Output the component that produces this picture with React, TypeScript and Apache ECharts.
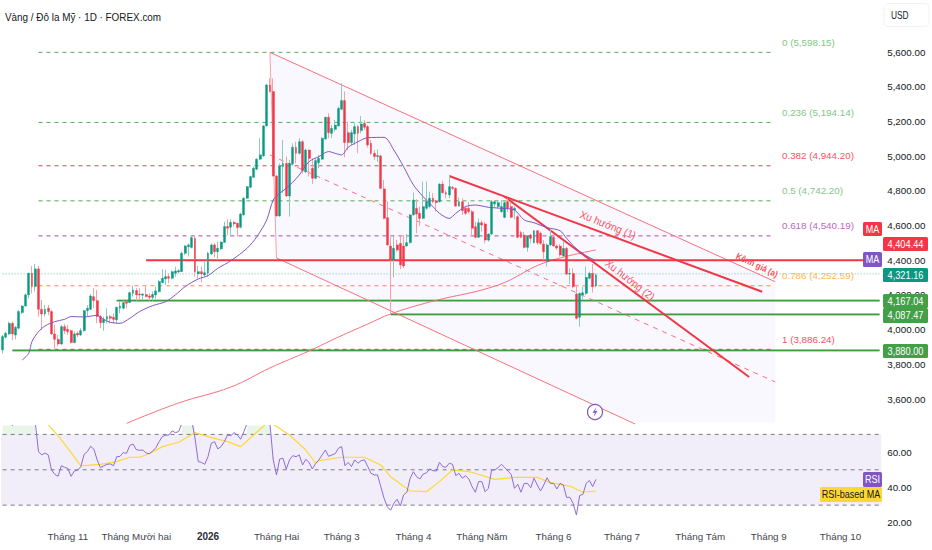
import React, { useEffect, useRef } from "react";
import * as echarts from "echarts";

const FONT = '"Liberation Sans", Arial, sans-serif';

const titleText = "Vàng / Đô la Mỹ · 1D · FOREX.com";
const barCount = 270;
const monthBars = [20, 41, 63, 84, 104, 126, 147, 169, 190, 214, 235, 257];
const monthLabels = ["Tháng 11", "Tháng Mười hai", "2026", "Tháng Hai", "Tháng 3", "Tháng 4", "Tháng Năm", "Tháng 6", "Tháng 7", "Tháng Tám", "Tháng 9", "Tháng 10"];
const categories = Array.from({ length: barCount }, (_, i) => {
  const k = monthBars.indexOf(i);
  return k >= 0 ? monthLabels[k] : "";
});

// [open, close, low, high]
const candles = [
  [3883,3960,3863,3969],[3956,3979,3950,3988],[3975,4036,3969,4046],[4036,3975,3940,4046],[3969,4013,3944,4021],
  [4008,4104,4002,4113],[4098,4136,4090,4142],[4136,4200,4132,4209],[4200,4325,4180,4328],[4325,4248,4209,4367],
  [4248,4350,4219,4378],[4350,4117,4075,4367],[4117,4090,3998,4171],[4090,4117,4075,4142],[4123,4104,4084,4142],
  [4104,3975,3969,4113],[3975,3944,3883,4027],[3944,3917,3906,3969],[3917,4017,3912,4027],[4017,3994,3975,4033],
  [4002,3988,3969,4027],[3994,3925,3921,4002],[3925,3975,3921,3988],[3979,3969,3956,3988],[3969,3994,3963,4008],
  [3994,4109,3988,4113],[4109,4123,4075,4142],[4117,4194,4113,4205],[4190,4167,4123,4238],[4167,4075,4036,4228],
  [4075,4040,4008,4084],[4040,4059,3994,4075],[4059,4075,4036,4123],[4075,4065,4036,4084],[4071,4059,4036,4094],
  [4056,4129,4036,4132],[4123,4136,4094,4161],[4123,4156,4117,4167],[4161,4152,4123,4167],[4156,4213,4152,4219],
  [4209,4228,4190,4255],[4225,4200,4167,4238],[4205,4200,4175,4238],[4198,4205,4171,4209],[4202,4190,4186,4255],
  [4194,4186,4167,4209],[4186,4203,4167,4219],[4200,4223,4178,4248],[4219,4277,4213,4286],[4271,4296,4267,4348],
  [4292,4305,4257,4344],[4305,4296,4267,4325],[4296,4334,4290,4340],[4325,4338,4305,4363],[4332,4340,4325,4348],
  [4334,4440,4332,4449],[4440,4482,4430,4488],[4478,4488,4421,4497],[4474,4530,4468,4545],[4526,4334,4305,4545],
  [4321,4334,4296,4367],[4334,4321,4271,4363],[4315,4328,4305,4392],[4325,4440,4305,4448],[4436,4488,4430,4497],
  [4488,4449,4417,4501],[4449,4469,4401,4507],[4465,4505,4459,4509],[4503,4594,4501,4622],[4594,4584,4545,4636],
  [4590,4618,4536,4636],[4618,4609,4594,4626],[4613,4588,4536,4617],[4590,4666,4584,4674],[4661,4757,4657,4763],
  [4757,4824,4753,4828],[4820,4882,4816,4886],[4878,4930,4874,4939],[4924,4982,4920,4987],[4982,5007,4978,5103],
  [5001,5174,4997,5179],[5174,5410,5170,5416],[5410,5372,5368,5448],[5372,4885,4882,5448],[4885,4655,4651,4891],
  [4655,4943,4651,4958],[4939,4958,4786,5093],[4958,4770,4766,4997],[4770,4958,4651,4978],[4955,5051,4949,5074],
  [5051,5016,4958,5083],[5016,5083,5010,5103],[5083,4916,4901,5093],[4910,5035,4901,5045],[5035,4987,4882,5039],
  [4930,4872,4839,4987],[4872,4974,4866,4987],[4962,4987,4930,5007],[4982,5103,4978,5108],[5099,5224,5093,5227],
  [5224,5135,5103,5247],[5131,5160,5103,5179],[5154,5179,5141,5208],[5174,5275,5170,5285],[5270,5320,5266,5420],
  [5320,5078,4993,5372],[5135,5078,5035,5199],[5078,5135,5064,5151],[5128,5170,5064,5189],[5170,5131,5016,5179],
  [5147,5185,5131,5231],[5189,5166,5151,5208],[5170,5064,5051,5179],[5074,5016,5007,5093],[5016,4997,4978,5035],
  [4997,5003,4968,5039],[5001,4814,4809,5007],[4811,4641,4636,4862],[4645,4488,4482,4738],[4482,4401,4094,4536],
  [4401,4469,4301,4536],[4488,4459,4449,4517],[4497,4373,4348,4545],[4482,4367,4353,4545],[4482,4501,4478,4551],
  [4501,4661,4497,4666],[4661,4747,4657,4789],[4699,4666,4555,4751],[4670,4641,4597,4709],[4641,4709,4636,4853],
  [4699,4738,4690,4853],[4709,4757,4699,4795],[4757,4738,4728,4786],[4743,4732,4680,4747],[4737,4839,4732,4843],
  [4839,4789,4785,4858],[4789,4781,4757,4805],[4776,4824,4757,4885],[4820,4814,4805,4828],[4814,4712,4709,4820],
  [4712,4737,4709,4762],[4737,4686,4661,4757],[4699,4670,4661,4709],[4699,4680,4670,4737],[4680,4584,4536,4689],
  [4593,4532,4526,4622],[4532,4616,4528,4641],[4616,4603,4564,4632],[4609,4516,4497,4622],[4516,4551,4507,4555],
  [4551,4737,4545,4747],[4724,4737,4700,4747],[4709,4732,4699,4747],[4680,4709,4674,4747],[4647,4732,4641,4747],
  [4737,4699,4680,4757],[4709,4647,4641,4737],[4689,4699,4636,4709],[4651,4532,4526,4661],[4559,4532,4526,4570],
  [4545,4474,4468,4564],[4474,4540,4449,4545],[4545,4526,4497,4551],[4501,4570,4497,4574],[4570,4501,4488,4574],
  [4555,4497,4488,4564],[4493,4449,4401,4516],[4392,4488,4363,4497],[4488,4536,4482,4584],[4532,4482,4478,4540],
  [4482,4470,4460,4490],[4482,4430,4420,4493],[4424,4468,4420,4507],[4468,4320,4315,4478],[4320,4324,4263,4353],
  [4324,4247,4238,4353],[4205,4065,4059,4251],[4071,4209,4017,4213],[4199,4213,4171,4247],[4209,4301,4199,4363],
  [4296,4324,4290,4334],[4324,4247,4213,4378],[4251,4315,4244,4324],
];

const maPurple = [
  [6,3825],[8,3863],[9,3931],[11,3988],[13,4021],[16,4046],[19,4059],[21,4075],[25,4073],[29,4082],[31,4059],[33,4042],[36,4036],[39,4065],[42,4104],[46,4138],[50,4161],[53,4200],[56,4248],[60,4292],[63,4311],[66,4353],[70,4397],[75,4469],[78,4536],[81,4632],[83,4747],[85,4786],[87,4814],[89,4850],[91,4891],[94,4968],[97,4997],[100,5026],[102,5016],[104,5007],[106,5051],[109,5083],[112,5106],[117,5108],[120,5035],[123,4939],[126,4834],[129,4766],[132,4709],[134,4670],[137,4641],[139,4670],[142,4709],[145,4718],[149,4705],[153,4699],[157,4689],[160,4632],[163,4616],[167,4588],[171,4570],[173,4526],[177,4449],[182,4397],
];
const maRed = [
  [38,3460],[54,3577],[70,3669],[82,3779],[94,3877],[103,3957],[112,4032],[119,4090],[131,4159],[152,4257],[166,4384],[182,4459],
];

const fibValues = [5598.15, 5194.14, 4944.2, 4742.2, 4540.19, 4252.59, 3886.24];
const fibNames = ["0", "0.236", "0.382", "0.5", "0.618", "0.786", "1"];
const fibColors = ["#4caf50", "#4caf50", "#f23645", "#4caf50", "#ab47bc", "#ff9800", "#f23645"];
const fibTextColors = ["#81c784", "#81c784", "#f7525f", "#81c784", "#ba68c8", "#ffb74d", "#f7525f"];
const fibSpan = [11, 236];

const channelUpper = [[82,5598],[237,4276]];
const channelMiddle = [[82,5006],[237,3698]];
const channelLower = [[84,4413],[194,3456]];
const channelLeft = [[82,5598],[84,4413]];
const channelFill = [[82,5598],[237,4276],[237,3465],[194,3465],[84,4413]];
const trendOne = [[137,4885],[233,4218]];
const trendTwo = [[154,4766],[229,3727]];
const resistance = [[44,4400],[264,4400]];
const greenLevels = [
  { value: 4167.04, from: 35 },
  { value: 4087.47, from: 119 },
  { value: 3880, from: 3 },
];
const lastPrice = 4321.16;

const rsiValues = [
  77,78,77,75,78,80,82,84,85,83,77,
  60.3,58.4,59.5,58.4,49.9,47.4,46.3,52.3,51.4,50.8,46.3,49.3,49.7,51.8,58.8,60.3,63.3,61.6,55.6,
  51.2,52.2,53.1,53.3,52.3,57.4,57.6,59.7,59.3,63.7,64.6,61.4,61,61.2,59.5,59.1,60.6,62.5,65.9,68.8,
  69.5,69.7,72,71,71.6,76.3,78,80,78,68,54.6,54.2,53.1,57.4,65,65.9,61.8,63.1,65.9,69.7,
  69.3,71,69.7,67.3,71.6,76.3,78,80,82,84,84,80,76,55.6,47.1,56.1,56.5,50.3,55.6,58,
  57.4,58.4,52.7,55.9,54.2,50.5,53.5,55.6,58.4,61.2,57.6,58.4,59.1,62.2,63.1,52.3,54.2,51.8,55.6,53.7,
  55.2,55.6,51.8,48,47.1,47.1,40.5,33.9,29.1,27.1,31,33.3,29.5,35.8,37.3,45.2,48.9,46.1,44.8,47.6,
  48.2,50.5,49.5,49.3,54.2,51.8,51.4,53.7,53.1,46.7,48,45.2,46.7,44.8,40.5,37.3,43.3,43.3,37.6,39.5,
  49.9,49.9,51.2,53.1,51.4,49.3,47.4,39.5,41.8,37.3,42.3,42.3,39.9,45.2,41.4,38,41.4,45.5,42.3,42.3,
  39.1,42.3,41.4,34.4,34.4,31,24.4,35.4,36.1,42.3,43.9,40.5,44.6,
];
const rsiMa = [
  [14,75.4],[17,69.3],[20,62.2],[24,52.2],[30,53.1],[35,54.6],[39,57.1],[42,57.1],[45,59.1],[49,63.1],[54,65.6],[59,71],[63,68.8],[69,65.9],[73,63.1],[77,69.7],[81,76.3],[83,75.7],[88,69.7],[93,61.2],[96,53.7],[97,55.2],[104,57.1],[111,57.1],[116,52.7],[119,46.1],[125,38],[130,37.6],[134,43.3],[138,49.9],[143,49],[151,44.6],[157,45.7],[164,45.7],[168,42.7],[174,40.8],[178,37.3],[182,38],
];
const rsiLevels = [70, 50, 30];
const overboughtSpans = [[0, 10], [55, 59], [75, 82]];

const priceTags = [
  { text: "4,404.44", top: 237, bottom: 251, color: "#f23645" },
  { text: "4,321.16", top: 268, bottom: 282, color: "#089981" },
  { text: "4,167.04", top: 294, bottom: 308, color: "#43a047" },
  { text: "4,087.47", top: 308, bottom: 323, color: "#43a047" },
  { text: "3,880.00", top: 344, bottom: 358, color: "#43a047" },
];
const sideTags = [
  { text: "MA", left: 863, top: 222, bottom: 236, color: "#f23645", ink: "#fff" },
  { text: "MA", left: 863, top: 252, bottom: 267, color: "#7e57c2", ink: "#fff" },
  { text: "RSI", left: 863, top: 472, bottom: 487, color: "#7e57c2", ink: "#fff" },
  { text: "RSI-based MA", left: 820, top: 487, bottom: 502, color: "#fdd835", ink: "#131722" },
];
const drawingTexts = [
  { text: "Xu hướng (1)", x: 608, y: 225, angle: -0.38, size: 11, weight: 400, squeeze: 0.9 },
  { text: "Xu hướng (2)", x: 630, y: 280, angle: -0.66, size: 11, weight: 400, squeeze: 0.9 },
  { text: "Kênh giá (a)", x: 757, y: 265, angle: -0.44, size: 9, weight: 700, squeeze: 0.88 },
];

const UP = "#089981";
const DOWN = "#f23645";

const lineSeries = (name: string, data: number[][], color: string, width: number, type: any = "solid", z = 5, extra: any = {}) => ({
  name, type: "line", xAxisIndex: 0, yAxisIndex: 0, data, showSymbol: false, symbol: "none", silent: true, z,
  lineStyle: { color, width, type }, ...extra,
});

export default function App() {
  const ref = useRef<HTMLDivElement>(null);
  useEffect(() => {
    const chart = echarts.init(ref.current!, undefined, { renderer: "svg" });
    const tagGraphics: any[] = [];
    priceTags.forEach((t) => {
      tagGraphics.push({ type: "rect", z: 50, shape: { x: 883, y: t.top, width: 45, height: t.bottom - t.top, r: 1.5 }, style: { fill: t.color } });
      tagGraphics.push({ type: "text", z: 51, x: 905.5, y: (t.top + t.bottom) / 2, scaleX: 0.84, style: { text: t.text, fill: "#fff", font: `11px ${FONT}`, align: "center", verticalAlign: "middle" } });
    });
    sideTags.forEach((t) => {
      tagGraphics.push({ type: "rect", z: 50, shape: { x: t.left, y: t.top, width: 882 - t.left, height: t.bottom - t.top, r: 1.5 }, style: { fill: t.color } });
      tagGraphics.push({ type: "text", z: 51, x: (t.left + 882) / 2, y: (t.top + t.bottom) / 2, scaleX: 0.82, style: { text: t.text, fill: t.ink, font: `11px ${FONT}`, align: "center", verticalAlign: "middle" } });
    });
    drawingTexts.forEach((t) => {
      tagGraphics.push({ type: "text", z: 40, x: t.x, y: t.y, rotation: t.angle, scaleX: t.squeeze, style: { text: t.text, fill: "#f7525f", font: `${t.weight} ${t.size}px ${FONT}`, align: "center", verticalAlign: "middle" } });
    });

    const option: any = {
      animation: false,
      backgroundColor: "#ffffff",
      textStyle: { fontFamily: FONT },
      grid: [
        { left: 1, top: 17.3, width: 880.2, height: 416.4 },
        { left: 1, top: 425.6, width: 880.2, height: 97.2 },
      ],
      xAxis: [
        { type: "category", gridIndex: 0, data: categories, boundaryGap: true, axisLine: { show: false }, axisTick: { show: false }, axisLabel: { show: false }, splitLine: { show: false } },
        {
          type: "category", gridIndex: 1, data: categories, boundaryGap: true, axisLine: { show: false }, axisTick: { show: false }, splitLine: { show: false },
          axisLabel: {
            show: true, interval: (i: number) => categories[i] !== "", margin: 9, hideOverlap: false,
            color: "#42454e", fontSize: 9.8, fontFamily: FONT,
            formatter: (v: string) => (v === "2026" ? `{b|${v}}` : v),
            rich: { b: { fontWeight: 700, fontSize: 10, color: "#2a2e39", fontFamily: FONT } },
          },
        },
      ],
      yAxis: [
        {
          type: "value", gridIndex: 0, position: "right", min: 3400, max: 5800, interval: 200, scale: true,
          axisLine: { show: false }, axisTick: { show: false }, splitLine: { show: false },
          axisLabel: {
            margin: 6, color: "#131722", fontSize: 9.8, fontFamily: FONT,
            formatter: (v: number) => (v < 3600 || v > 5600 ? "" : v.toLocaleString("en-US", { minimumFractionDigits: 2 })),
          },
        },
        {
          type: "value", gridIndex: 1, position: "right", min: 20, max: 75, interval: 20,
          axisLine: { show: false }, axisTick: { show: false }, splitLine: { show: false },
          axisLabel: {
            margin: 6, color: "#131722", fontSize: 9.8, fontFamily: FONT, showMaxLabel: false,
            formatter: (v: number) => (v % 20 === 0 ? v.toFixed(2) : ""),
          },
        },
      ],
      series: [
        {
          name: "Kênh giá", type: "custom", xAxisIndex: 0, yAxisIndex: 0, z: 1, silent: true, clip: false,
          data: [0],
          renderItem: (_: any, api: any) => ({
            type: "polygon",
            shape: { points: channelFill.map((p) => api.coord(p)) },
            style: { fill: "#f9f8ff" },
          }),
        },
        ...fibValues.map((v, k) =>
          lineSeries(`fib ${fibNames[k]}`, [[fibSpan[0], v], [fibSpan[1], v]], fibColors[k], 1, [4, 4], 5, {
            endLabel: {
              show: true, offset: [2, -10], color: fibTextColors[k], fontSize: 9.8, fontFamily: FONT,
              formatter: () => `${fibNames[k]} (${v.toLocaleString("en-US", { minimumFractionDigits: 2 })})`,
            },
          })
        ),
        lineSeries("last", [[0, lastPrice], [269, lastPrice]], "#6cc4ae", 1, [1, 2], 3),
        ...greenLevels.map((l, k) => lineSeries(`level halo ${k}`, [[l.from, l.value], [269, l.value]], "#b5dfb7", 3, "solid", 4)),
        ...greenLevels.map((l, k) => lineSeries(`level ${k}`, [[l.from, l.value], [269, l.value]], "#3d9a42", 1.4, "solid", 4)),
        lineSeries("resistance", resistance, "#f23645", 2, "solid", 6),
        lineSeries("channel upper", channelUpper, "#f7707c", 1),
        lineSeries("channel middle", channelMiddle, "#f7707c", 1, [5, 5]),
        lineSeries("channel lower", channelLower, "#f7707c", 1),
        lineSeries("channel left", channelLeft, "#f7a0a8", 1, "solid", 3),
        lineSeries("MA red", maRed, "#f7707c", 1, "solid", 5, { smooth: 0.4 }),
        lineSeries("Xu hướng (1)", trendOne, "#f23645", 2, "solid", 7),
        lineSeries("Xu hướng (2)", trendTwo, "#f23645", 2, "solid", 7),
        {
          name: "wicks", type: "candlestick", xAxisIndex: 0, yAxisIndex: 0, data: candles, barWidth: 1, z: 8, silent: true,
          itemStyle: { color: "#8ccbb9", color0: "#f7a0a8", borderColor: "#8ccbb9", borderColor0: "#f7a0a8", borderWidth: 1 },
        },
        {
          name: "bodies", type: "candlestick", xAxisIndex: 0, yAxisIndex: 0, barWidth: 2.4, z: 9, silent: true,
          data: candles.map(([o, c]) => [o, c, Math.min(o, c), Math.max(o, c)]),
          itemStyle: { color: UP, color0: DOWN, borderColor: UP, borderColor0: DOWN, borderWidth: 0.4 },
        },
        lineSeries("MA", maPurple, "#7e57c2", 1, "solid", 10, { smooth: 0.3 }),
        {
          name: "RSI", type: "line", xAxisIndex: 1, yAxisIndex: 1, data: rsiValues.map((v, i) => [i, v]), showSymbol: false, symbol: "none", silent: true, z: 6,
          lineStyle: { color: "#8e6bd6", width: 1 },
          markArea: {
            silent: true,
            itemStyle: { color: "rgba(76,175,80,0.13)" },
            data: [
              ...overboughtSpans.map(([a, b]) => [{ xAxis: a, yAxis: 70 }, { xAxis: b, yAxis: 75 }]),
              [{ yAxis: 30, itemStyle: { color: "rgba(126,87,194,0.1)" } }, { yAxis: 70 }],
            ],
          },
        },
        {
          name: "RSI-based MA", type: "line", xAxisIndex: 1, yAxisIndex: 1, data: rsiMa, showSymbol: false, symbol: "none", silent: true, z: 5,
          lineStyle: { color: "#fdd835", width: 1.2 },
        },
        ...rsiLevels.map((v) => ({
          name: `rsi ${v}`, type: "line", xAxisIndex: 1, yAxisIndex: 1, data: [[0, v], [269, v]], showSymbol: false, symbol: "none", silent: true, z: 4,
          lineStyle: { color: "#787b86", width: 1, type: [4, 4] },
        })),
      ],
      graphic: [
        { type: "text", z: 60, x: 5, y: 17, scaleX: 0.9, style: { text: titleText, fill: "#131722", font: `11px ${FONT}`, verticalAlign: "middle" } },
        { type: "rect", z: 60, shape: { x: 884, y: 3.5, width: 45, height: 23, r: 4 }, style: { fill: "#fff", stroke: "#f0f3fa", lineWidth: 1 } },
        { type: "text", z: 61, x: 891, y: 15, scaleX: 0.76, style: { text: "USD", fill: "#131722", font: `11px ${FONT}`, verticalAlign: "middle" } },
        { type: "circle", z: 40, shape: { cx: 595, cy: 412, r: 7.5 }, style: { fill: "#fff", stroke: "#7e57c2", lineWidth: 1.2 } },
        { type: "polygon", z: 41, shape: { points: [[596.5, 407], [592.5, 412.8], [595, 412.8], [593.5, 417], [597.5, 411], [595, 411]] }, style: { fill: "#7e57c2" } },
        ...tagGraphics,
      ],
    };
    chart.setOption(option);
    return () => chart.dispose();
  }, []);
  return <div ref={ref} style={{ position: "absolute", left: 0, top: 0, width: 932, height: 550 }} />;
}
